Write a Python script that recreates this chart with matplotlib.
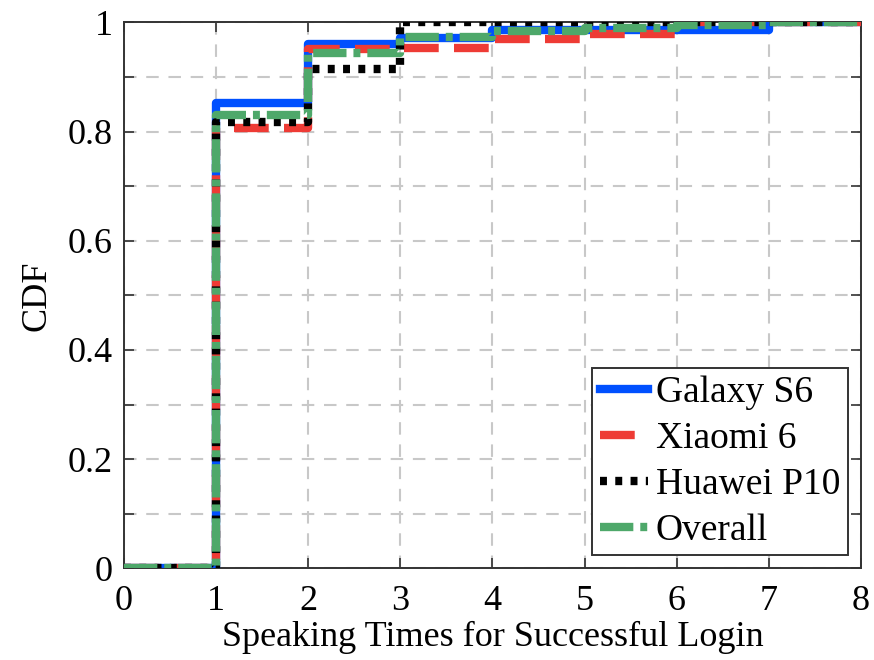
import numpy as np
import matplotlib
matplotlib.use("Agg")
import matplotlib.pyplot as plt
from matplotlib.ticker import FixedLocator, FuncFormatter

# Step positions (speaking times) and CDF values
x_steps = [0, 1, 2, 3, 4, 5, 6, 7, 8]
galaxy_s6 = [0, 0.853, 0.961, 0.971, 0.986, 0.986, 0.986, 1.0, 1.0]
xiaomi_6 = [0, 0.806, 0.951, 0.953, 0.970, 0.979, 1.0, 1.0, 1.0]
huawei_p10 = [0, 0.818, 0.914, 1.0, 1.0, 1.0, 1.0, 1.0, 1.0]
overall = [0, 0.830, 0.944, 0.974, 0.984, 0.989, 0.995, 1.0, 1.0]

labels = ["Galaxy S6", "Xiaomi 6", "Huawei P10", "Overall"]
xticks = [0, 1, 2, 3, 4, 5, 6, 7, 8]
yticks = [0, 0.1, 0.2, 0.3, 0.4, 0.5, 0.6, 0.7, 0.8, 0.9, 1.0]

plt.rcParams['font.family'] = ['Liberation Serif', 'DejaVu Serif']
plt.rcParams['lines.scale_dashes'] = False

fig = plt.figure(figsize=(8.74, 6.6), dpi=100)
ax = fig.add_axes([0.142, 0.139, 0.843, 0.827])

blue = '#0050ff'
red = '#ee3b35'
green = '#4ea86a'

lw = 6.0
ax.step(x_steps, galaxy_s6, where='post', color=blue, lw=lw, ls='-', label=labels[0], zorder=3)
ax.step(x_steps, xiaomi_6, where='post', color=red, lw=lw, ls=(0, (25, 11)), label=labels[1], zorder=4)
ax.step(x_steps, huawei_p10, where='post', color='black', lw=lw, ls=(0, (5, 6)), label=labels[2], zorder=5)
ax.step(x_steps, overall, where='post', color=green, lw=lw, ls=(0, (24, 5, 5, 5)), label=labels[3], zorder=6)

ax.set_xlim(0, 8)
ax.set_ylim(0, 1)
ax.xaxis.set_major_locator(FixedLocator(xticks))
ax.yaxis.set_major_locator(FixedLocator(yticks))

def yfmt(v, pos):
    k = int(round(v * 10))
    if k % 2:
        return ''
    if k == 0:
        return '0'
    if k == 10:
        return '1'
    return '%.1f' % v

ax.yaxis.set_major_formatter(FuncFormatter(yfmt))
ax.tick_params(direction='in', length=7, width=1.2, top=True, right=True,
               labelsize=26, colors='#333333', labelcolor='black')
ax.tick_params(axis='x', pad=12)
ax.tick_params(axis='y', pad=8)
ax.grid(True, color='#c8c8c8', ls=(0, (9, 7)), lw=1.5)
for s in ax.spines.values():
    s.set_color('#333333')
    s.set_linewidth(1.4)

ax.set_xlabel('Speaking Times for Successful Login', fontsize=26, labelpad=2)
ax.set_ylabel('CDF', fontsize=26, labelpad=10)

leg = ax.legend(loc='lower right', fontsize=27, handlelength=1.3, handletextpad=0.2,
                borderaxespad=0.35, borderpad=0.2, labelspacing=0.3,
                fancybox=False, framealpha=1, edgecolor='#333333')
leg.get_frame().set_linewidth(1.4)

fig.savefig('out.png', dpi=100)
